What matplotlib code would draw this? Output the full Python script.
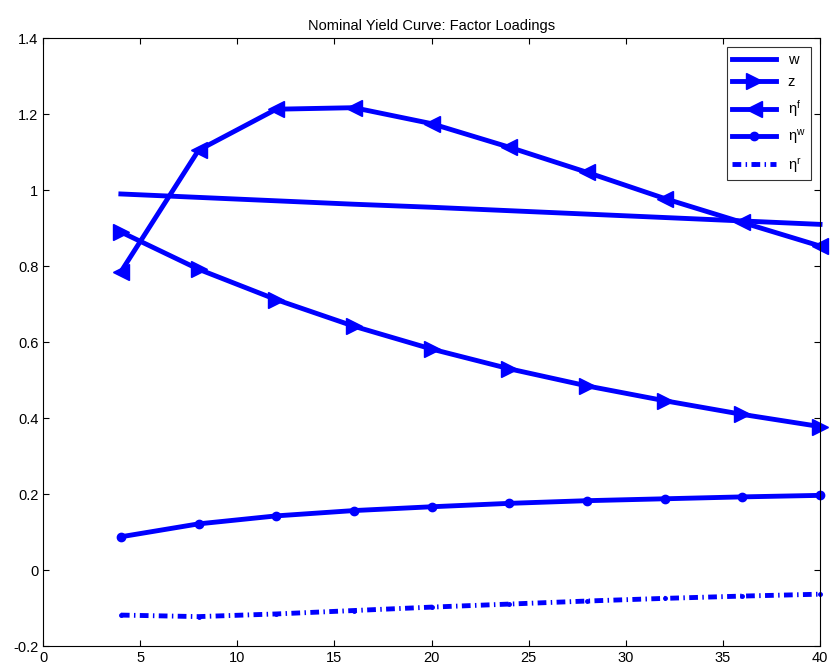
import matplotlib
matplotlib.use('Agg')
import matplotlib.pyplot as plt

plt.rcParams['font.family'] = ['Liberation Sans', 'DejaVu Sans']
plt.rcParams['mathtext.default'] = 'regular'

maturity = [4, 8, 12, 16, 20, 24, 28, 32, 36, 40]
w = [0.990, 0.981, 0.972, 0.963, 0.955, 0.946, 0.937, 0.928, 0.919, 0.910]
z = [0.890, 0.792, 0.712, 0.642, 0.582, 0.530, 0.485, 0.446, 0.410, 0.378]
eta_f = [0.785, 1.105, 1.213, 1.217, 1.175, 1.113, 1.047, 0.978, 0.915, 0.853]
eta_w = [0.088, 0.122, 0.143, 0.157, 0.167, 0.176, 0.183, 0.188, 0.193, 0.197]
eta_r = [-0.118, -0.122, -0.115, -0.106, -0.097, -0.089, -0.081, -0.074, -0.068, -0.063]

fig = plt.figure(figsize=(8.3, 6.69), dpi=100)
ax = fig.add_axes([0.052, 0.034, 0.936, 0.909])

blue = '#0000ff'
lw = 3.5
ax.plot(maturity, w, '-', color=blue, lw=lw, label='w', clip_on=False)
ax.plot(maturity, z, '-', marker='>', ms=12, color=blue, lw=lw, label='z', clip_on=False)
ax.plot(maturity, eta_f, '-', marker='<', ms=12, color=blue, lw=lw, label='η$^f$', clip_on=False)
ax.plot(maturity, eta_w, '-', marker='o', ms=6, color=blue, lw=lw, label='η$^w$', clip_on=False)
ax.plot(maturity, eta_r, marker='.', ms=5, color=blue, lw=lw, label='η$^r$',
        dashes=[1.8, 0.9, 0.3, 0.9], clip_on=False)

ax.set_xlim(0, 40)
ax.set_ylim(-0.2, 1.4)
ax.set_xticks(range(0, 41, 5))
ax.set_yticks([-0.2, 0, 0.2, 0.4, 0.6, 0.8, 1, 1.2, 1.4])
ax.set_yticklabels(['-0.2', '0', '0.2', '0.4', '0.6', '0.8', '1', '1.2', '1.4'])
ax.tick_params(direction='in', top=True, right=True, labelsize=10.5, length=4)
ax.set_title('Nominal Yield Curve: Factor Loadings', fontsize=10.5)

leg = ax.legend(loc='upper right', fancybox=False, edgecolor='black', fontsize=10.5,
                handlelength=3.0, borderaxespad=0.6, labelspacing=0.6)
leg.get_frame().set_linewidth(0.8)

fig.savefig('out.png', dpi=100)
